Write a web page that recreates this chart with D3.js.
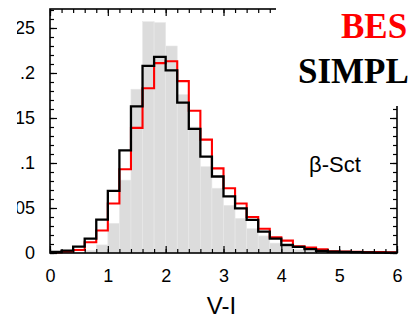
<!DOCTYPE html>
<html>
<head>
<meta charset="utf-8">
<script src="https://cdn.jsdelivr.net/npm/d3@7"></script>
<style>
  html, body { margin: 0; padding: 0; background: #fff; }
  svg { display: block; }
</style>
</head>
<body>
<svg id="chart" width="408" height="320"></svg>
<script>
// Bin left edges in V-I (bin width 0.2)
const binEdges = [0.0, 0.2, 0.4, 0.6, 0.8, 1.0, 1.2, 1.4, 1.6, 1.8,
                  2.0, 2.2, 2.4, 2.6, 2.8, 3.0, 3.2, 3.4, 3.6, 3.8,
                  4.0, 4.2, 4.4, 4.6, 4.8, 5.0, 5.2, 5.4, 5.6, 5.8];
const binWidth = 0.2;

// Observed beta-Sct sample (grey filled histogram)
const observed = [0, 0.0005, 0.001, 0.003, 0.009, 0.033, 0.081, 0.182, 0.257, 0.256,
                  0.230, 0.176, 0.140, 0.096, 0.072, 0.053, 0.0385, 0.027, 0.019, 0.011,
                  0.007, 0.004, 0.0025, 0.0015, 0.001, 0.0007, 0.0005, 0.0003, 0.0002, 0.0001];

// Besancon model (red outline)
const besancon = [0.0005, 0.0015, 0.0033, 0.012, 0.025, 0.055, 0.093, 0.139, 0.183, 0.211,
                  0.213, 0.191, 0.158, 0.126, 0.094, 0.072, 0.055, 0.040, 0.027, 0.0174,
                  0.0137, 0.0075, 0.006, 0.004, 0.002, 0.0015, 0.0012, 0.001, 0.001, 0.0008];

// Simple model (black outline)
const simple = [0.0012, 0.0026, 0.007, 0.016, 0.037, 0.069, 0.114, 0.163, 0.208, 0.218,
                0.203, 0.167, 0.138, 0.107, 0.085, 0.063, 0.0496, 0.0367, 0.0237, 0.016,
                0.0089, 0.0068, 0.0044, 0.0022, 0.0015, 0.0012, 0.001, 0.0007, 0.0005, 0.0003];

const xTicks = [0, 1, 2, 3, 4, 5, 6];
const xTickLabels = ["0", "1", "2", "3", "4", "5", "6"];
const yTicks = [0, 0.05, 0.1, 0.15, 0.2, 0.25];
const yTickLabels = ["0", ".05", ".1", ".15", ".2", ".25"];
const xLabel = "V-I";
const legendLabels = ["BES", "SIMPL"];
const panelLabel = "\u03B2-Sct";

const svg = d3.select("#chart");
const plotLeft = 50, plotRight = 397, plotTop = 9, plotBottom = 253;

const x = d3.scaleLinear().domain([0, 6]).range([plotLeft, plotRight]);
const y = d3.scaleLinear().domain([0, 0.2711]).range([plotBottom, plotTop]);

// Grey histogram bars
svg.append("g")
  .selectAll("rect")
  .data(binEdges.map((e, i) => ({ x0: e, x1: e + binWidth, v: observed[i] })))
  .join("rect")
  .attr("x", d => x(d.x0))
  .attr("width", d => x(d.x1) - x(d.x0))
  .attr("y", d => y(d.v))
  .attr("height", d => y(0) - y(d.v))
  .attr("fill", "#dcdcdc")
  .attr("stroke", "#e8e8e8")
  .attr("stroke-width", 0.6);

// Step outlines for the two models
function stepPoints(values) {
  const pts = binEdges.map((e, i) => [e, values[i]]);
  pts.push([binEdges[binEdges.length - 1] + binWidth, values[values.length - 1]]);
  return pts;
}
const stepLine = d3.line()
  .x(d => x(d[0]))
  .y(d => y(d[1]))
  .curve(d3.curveStepAfter);

svg.append("path")
  .attr("d", stepLine(stepPoints(besancon)))
  .attr("fill", "none")
  .attr("stroke", "#ff0000")
  .attr("stroke-width", 2.1);

svg.append("path")
  .attr("d", stepLine(stepPoints(simple)))
  .attr("fill", "none")
  .attr("stroke", "#000")
  .attr("stroke-width", 2.3);

// Axes with inward ticks
const tickFont = "'Liberation Sans', Arial, Helvetica, sans-serif";
const minorX = d3.range(0, 6.0001, 0.2);
const minorY = d3.range(0, 0.2701, 0.01);

function styleAxis(g) {
  g.select(".domain").remove();
  g.selectAll("line").attr("stroke", "#000").attr("stroke-width", 1.2);
  g.selectAll("text").attr("font-family", tickFont).attr("font-size", 18).attr("fill", "#000");
}

// clip for left labels (the left margin is cut off)
svg.append("defs").append("clipPath").attr("id", "labelClip")
  .append("rect").attr("x", 17).attr("y", 0).attr("width", 391).attr("height", 320);

const yAxisG = svg.append("g").attr("clip-path", "url(#labelClip)")
  .append("g").attr("transform", `translate(${plotLeft},0)`);
yAxisG.append("g")
  .call(d3.axisLeft(y).tickValues(yTicks).tickSize(-7).tickPadding(15)
    .tickFormat((d, i) => yTickLabels[i]))
  .call(styleAxis);
yAxisG.append("g")
  .call(d3.axisLeft(y).tickValues(minorY).tickSize(-4).tickFormat(""))
  .call(styleAxis);

svg.append("g").attr("transform", `translate(${plotRight},0)`)
  .call(d3.axisRight(y).tickValues(yTicks).tickSize(-7).tickFormat(""))
  .call(styleAxis);
svg.append("g").attr("transform", `translate(${plotRight},0)`)
  .call(d3.axisRight(y).tickValues(minorY).tickSize(-4).tickFormat(""))
  .call(styleAxis);

svg.append("g").attr("transform", `translate(0,${plotBottom})`)
  .call(d3.axisBottom(x).tickValues(xTicks).tickSize(-7).tickPadding(16)
    .tickFormat((d, i) => xTickLabels[i]))
  .call(styleAxis);
svg.append("g").attr("transform", `translate(0,${plotBottom})`)
  .call(d3.axisBottom(x).tickValues(minorX).tickSize(-4).tickFormat(""))
  .call(styleAxis);

svg.append("g").attr("transform", `translate(0,${plotTop})`)
  .call(d3.axisTop(x).tickValues(xTicks).tickSize(-7).tickFormat(""))
  .call(styleAxis);
svg.append("g").attr("transform", `translate(0,${plotTop})`)
  .call(d3.axisTop(x).tickValues(minorX).tickSize(-4).tickFormat(""))
  .call(styleAxis);

// Frame
svg.append("rect")
  .attr("x", plotLeft).attr("y", plotTop)
  .attr("width", plotRight - plotLeft).attr("height", plotBottom - plotTop)
  .attr("fill", "none").attr("stroke", "#000").attr("stroke-width", 1.6);

// Axis title
svg.append("text")
  .attr("x", (plotLeft + plotRight) / 2 - 2).attr("y", 314)
  .attr("text-anchor", "middle")
  .attr("font-family", tickFont).attr("font-size", 24)
  .text(xLabel);

// Panel label
svg.append("text")
  .attr("x", 309).attr("y", 172)
  .attr("font-family", tickFont).attr("font-size", 22)
  .text(panelLabel);

// Legend block on white background
svg.append("rect")
  .attr("x", 276).attr("y", 0).attr("width", 132).attr("height", 106)
  .attr("fill", "#fff");
svg.append("text")
  .attr("x", 341).attr("y", 38)
  .attr("font-family", "'Liberation Serif', 'Times New Roman', serif")
  .attr("font-weight", "bold").attr("font-size", 35)
  .attr("fill", "#ff0000")
  .text(legendLabels[0]);
svg.append("text")
  .attr("x", 298).attr("y", 83)
  .attr("font-family", "'Liberation Serif', 'Times New Roman', serif")
  .attr("font-weight", "bold").attr("font-size", 35)
  .attr("fill", "#000")
  .text(legendLabels[1]);
</script>
</body>
</html>
